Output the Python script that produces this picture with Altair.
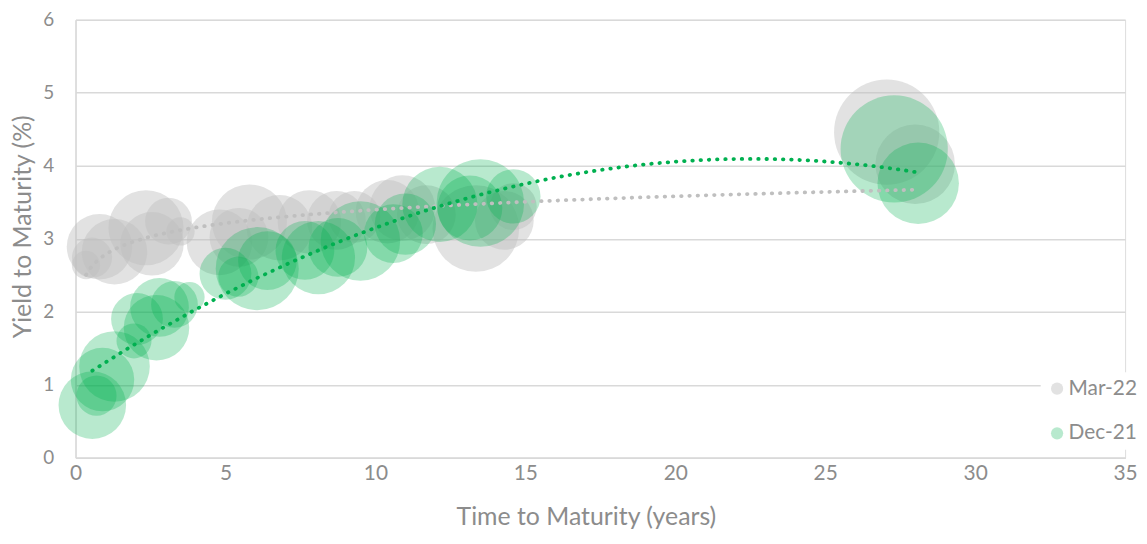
import altair as alt
import pandas as pd

# ---- data (time to maturity, yield, bubble size) ----
mar_t = [0.35, 0.55, 0.8, 1.3, 2.55, 2.35, 3.1, 3.5, 4.8, 5.8, 5.45, 6.8, 7.8, 8.7, 9.3, 10.4, 10.9, 11.7, 13.35, 14.3, 14.6, 27.05, 28.0]
mar_y = [2.64, 2.74, 2.89, 2.82, 2.93, 3.15, 3.24, 3.1, 2.95, 3.23, 3.02, 3.15, 3.23, 3.25, 3.3, 3.37, 3.42, 3.33, 3.14, 3.25, 3.44, 4.46, 4.02]
mar_size = [2.1, 4.2, 11.2, 11.2, 10.5, 14.7, 5.7, 2.1, 11.2, 14.7, 9.0, 11.2, 10.5, 9.0, 7.0, 10.5, 11.2, 9.0, 19.6, 9.0, 5.7, 28.9, 16.5]

dec_t = [0.56, 0.7, 0.9, 1.3, 1.95, 2.05, 2.7, 2.8, 3.3, 3.8, 5.0, 6.06, 5.43, 6.4, 7.65, 8.1, 8.75, 9.5, 10.6, 11.0, 12.15, 13.15, 13.5, 14.6, 27.3, 28.1]
dec_y = [0.72, 0.85, 1.07, 1.25, 1.6, 1.9, 1.78, 2.06, 2.1, 2.2, 2.52, 2.59, 2.48, 2.7, 2.84, 2.74, 2.88, 2.97, 3.07, 3.2, 3.47, 3.42, 3.49, 3.58, 4.23, 3.76]
dec_size = [11.9, 4.2, 10.5, 13.0, 3.2, 7.0, 11.2, 9.0, 5.7, 2.4, 7.0, 18.0, 4.2, 9.0, 9.0, 14.0, 9.0, 16.5, 9.0, 9.8, 14.7, 11.0, 20.0, 7.7, 30.0, 17.3]

series_names = ["Mar-22", "Dec-21"]
x_ticks = [0, 5, 10, 15, 20, 25, 30, 35]
y_ticks = [0, 1, 2, 3, 4, 5, 6]

df_mar = pd.DataFrame({"t": mar_t, "y": mar_y, "size": mar_size, "series": "Mar-22"})
df_dec = pd.DataFrame({"t": dec_t, "y": dec_y, "size": dec_size, "series": "Dec-21"})
df = pd.concat([df_mar, df_dec], ignore_index=True)

FONT = "Lato"
TXT = "#8c8c8c"
GRID = "#d9d9d9"

x_enc = alt.X(
    "t:Q",
    scale=alt.Scale(domain=[0, 35], nice=False, zero=True),
    axis=alt.Axis(
        values=x_ticks, title="Time to Maturity (years)", grid=False, ticks=False,
        domainColor=GRID, domainWidth=1.5, labelColor=TXT, labelFontSize=21, labelFont=FONT,
        labelPadding=5, titleColor=TXT, titleFontSize=25, titleFont=FONT, titleFontWeight="normal",
        titleX=514, titleY=72, titleAlign="center", titleBaseline="bottom", labelFlush=False,
        format="d",
    ),
)
y_enc = alt.Y(
    "y:Q",
    scale=alt.Scale(domain=[0, 6], nice=False, zero=True),
    axis=alt.Axis(
        values=y_ticks, title="Yield to Maturity (%)", grid=True, gridColor=GRID, gridWidth=1.5,
        ticks=False, domainColor=GRID, domainWidth=1.5, labelColor=TXT, labelFontSize=19,
        labelFont=FONT, labelPadding=22, titleColor=TXT, titleFontSize=25, titleFont=FONT,
        titleFontWeight="normal", titleX=-65, titleY=208, titleAngle=270, titleAlign="center",
        titleBaseline="top", labelFlush=False, format="d",
    ),
)

color_scale = alt.Scale(domain=series_names, range=["#bfbfbf", "#00b050"])
opacity_scale = alt.Scale(domain=series_names, range=[0.45, 0.28])

legend = alt.Legend(
    title=None, orient="none", legendX=972, legendY=355, labelFont=FONT, labelFontSize=21,
    labelColor=TXT, symbolType="circle", symbolSize=150, rowPadding=23, fillColor="white",
    padding=6, labelOffset=1,
)

bubbles = alt.Chart(df).mark_circle().encode(
    x=x_enc,
    y=y_enc,
    size=alt.Size("size:Q", scale=alt.Scale(domain=[0, 30], range=[0, 11664]), legend=None),
    color=alt.Color("series:N", scale=color_scale, legend=legend),
    opacity=alt.Opacity("series:N", scale=opacity_scale, legend=legend),
)

trend_mar = alt.Chart(df_mar).transform_regression("t", "y", method="log").mark_line(
    color="#bfbfbf", strokeDash=[0.5, 7.8], strokeCap="round", strokeWidth=3.8
).encode(x="t:Q", y="y:Q")

trend_dec = alt.Chart(df_dec).transform_regression("t", "y", method="poly", order=2).mark_line(
    color="#00b050", strokeDash=[0.5, 7.8], strokeCap="round", strokeWidth=3.8
).encode(x="t:Q", y="y:Q")

chart = alt.layer(bubbles, trend_mar, trend_dec).properties(
    width=1057,
    height=441,
    autosize=alt.AutoSizeParams(type="none"),
    padding={"left": 68, "top": 10, "right": 14, "bottom": 72},
).configure_view(stroke=None).configure(background="white")

chart.save("out.html", embed_options={"renderer": "svg", "actions": False})
